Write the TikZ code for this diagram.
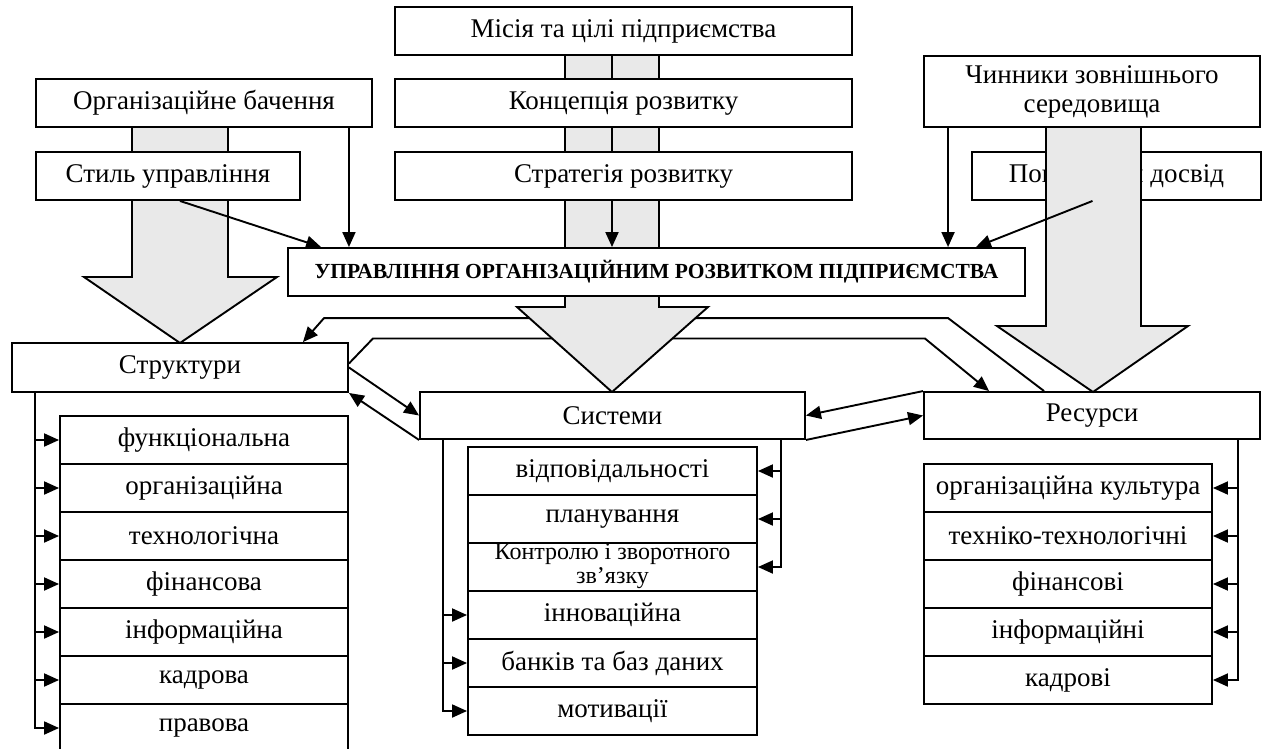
\documentclass[tikz,border=0pt]{standalone}
\usepackage{fontspec}
\setmainfont{Liberation Serif}
\usetikzlibrary{arrows.meta,calc}
\definecolor{shade}{RGB}{233,233,233}
\pgfdeclarelayer{back}
\pgfdeclarelayer{under}
\pgfsetlayers{back,under,main}
\begin{document}
\begin{tikzpicture}[x=1pt,y=-1pt,
  box/.style={draw, fill=white, line width=1.9pt, inner sep=0pt, align=center,
    font=\fontsize{27}{30}\selectfont},
  sub/.style={box, minimum height=48pt},
  arr/.style={line width=1.9pt, -{Triangle[length=15pt,width=13pt]}},
  ln/.style={line width=1.9pt},
  bigarrow/.style={draw, fill=shade, line width=1.9pt}]
\useasboundingbox (0,0) rectangle (1263,748);

% top boxes
\node[box, minimum width=457pt, minimum height=48pt] (mis) at (623.5,31) {Місія та цілі підприємства};
\node[box, minimum width=457pt, minimum height=48pt] (konc) at (623.5,103) {Концепція розвитку};
\node[box, minimum width=457pt, minimum height=48pt] (strat) at (623.5,176) {Стратегія розвитку};
\node[box, minimum width=336pt, minimum height=48pt] (org) at (204,103) {Організаційне бачення};
\node[box, minimum width=264pt, minimum height=48pt] (styl) at (168,176) {Стиль управління};
\node[box, minimum width=336pt, minimum height=71pt, font=\fontsize{27}{29}\selectfont] (chyn) at (1092,91.5) {Чинники зовнішнього\\середовища};
\node[box, minimum width=289pt, minimum height=48pt] (pop) at (1116.5,176) {Попередній досвід};
\node[box, minimum width=737pt, minimum height=48pt, font=\fontsize{21.5}{24}\selectfont\bfseries] (upr) at (656.5,272) {УПРАВЛІННЯ ОРГАНІЗАЦІЙНИМ РОЗВИТКОМ ПІДПРИЄМСТВА};

% middle boxes
\node[box, minimum width=336pt, minimum height=49pt] (strukt) at (180,367.5) {Структури};
\node[box, minimum width=385pt, minimum height=47pt] (syst) at (612.5,415.5) {Системи};
\node[box, minimum width=336pt, minimum height=47pt] (res) at (1092,415.5) {Ресурси};

% structure sub-boxes
\node[sub, minimum width=288pt] (s1) at (204,440) {функціональна};
\node[sub, minimum width=288pt] (s2) at (204,488) {організаційна};
\node[sub, minimum width=288pt] (s3) at (204,536) {технологічна};
\node[sub, minimum width=288pt] (s4) at (204,584) {фінансова};
\node[sub, minimum width=288pt] (s5) at (204,632) {інформаційна};
\node[sub, minimum width=288pt] (s6) at (204,680) {кадрова};
\node[sub, minimum width=288pt] (s7) at (204,728) {правова};

% systems sub-boxes
\node[sub, minimum width=289pt] (y1) at (612.5,471) {відповідальності};
\node[sub, minimum width=289pt] (y2) at (612.5,519) {планування};
\node[sub, minimum width=289pt, font=\fontsize{24}{24}\selectfont] (y3) at (612.5,567) {\raisebox{-6pt}{\begin{tabular}{@{}c@{}}Контролю і зворотного\\зв’язку\end{tabular}}};
\node[sub, minimum width=289pt] (y4) at (612.5,615) {інноваційна};
\node[sub, minimum width=289pt] (y5) at (612.5,663) {банків та баз даних};
\node[sub, minimum width=289pt] (y6) at (612.5,711) {мотивації};

% resources sub-boxes
\node[sub, minimum width=288pt] (r1) at (1068,488) {організаційна культура};
\node[sub, minimum width=288pt] (r2) at (1068,536) {техніко-технологічні};
\node[sub, minimum width=288pt] (r3) at (1068,584) {фінансові};
\node[sub, minimum width=288pt] (r4) at (1068,632) {інформаційні};
\node[sub, minimum width=288pt] (r5) at (1068,680) {кадрові};

\coordinate (cl) at (612,0);

% big arrows (behind boxes)
\begin{pgfonlayer}{under}
\draw[bigarrow] (132,127) -- (132,277) -- (84,277) -- (180,343) -- (277,277) -- (228,277) -- (228,127) -- cycle;
\draw[bigarrow] (565,55) -- (565,307) -- (517,307) -- (612,392) -- (708,307) -- (659,307) -- (659,55) -- cycle;
\end{pgfonlayer}

% long connectors (behind central arrow)
\begin{pgfonlayer}{back}
\draw[arr] ([xshift=121pt]res.north west) -- ++(-96,-73) -- ++(-624,0) -- ([xshift=-46pt]strukt.north east);
\draw[arr] ([yshift=4pt]strukt.east) -- ++(24,-25) -- ++(552,0) -- ([xshift=66pt]res.north west);
\end{pgfonlayer}

% right big arrow over "Попередній досвід"
\draw[bigarrow] (1046,127) -- (1046,326) -- (997,326) -- (1093,392) -- (1188,326) -- (1141,326) -- (1141,127) -- cycle;

% top connectors
\draw[ln] (mis.south -| cl) -- (konc.north -| cl);
\draw[ln] (konc.south -| cl) -- (strat.north -| cl);
\draw[arr] (strat.south -| cl) -- (upr.north -| cl);
\draw[arr] ([xshift=-24pt]org.south east) -- ([xshift=-24pt]org.south east |- upr.north);
\draw[arr] ([xshift=12pt]styl.south) -- ([xshift=34pt]upr.north west);
\draw[arr] ([xshift=25pt]chyn.south west) -- ([xshift=25pt]chyn.south west |- upr.north);
\draw[arr] ([xshift=-24pt]pop.south) -- ([xshift=-50pt]upr.north east);

% between middle boxes
\draw[arr] (strukt.east) -- (syst.west);
\draw[arr] (syst.south west) -- (strukt.south east);
\draw[arr] (res.north west) -- (syst.east);
\draw[arr] (syst.south east) -- (res.west);

% trunks
\foreach \n in {s1,s2,s3,s4,s5,s6,s7}
  \draw[arr] ([xshift=24pt]strukt.south west) |- (\n.west);
\foreach \n in {y4,y5,y6}
  \draw[arr] ([xshift=24pt]syst.south west) |- (\n.west);
\foreach \n in {y1,y2,y3}
  \draw[arr] ([xshift=-25pt]syst.south east) |- (\n.east);
\foreach \n in {r1,r2,r3,r4,r5}
  \draw[arr] ([xshift=-23pt]res.south east) |- (\n.east);
\end{tikzpicture}
\end{document}
